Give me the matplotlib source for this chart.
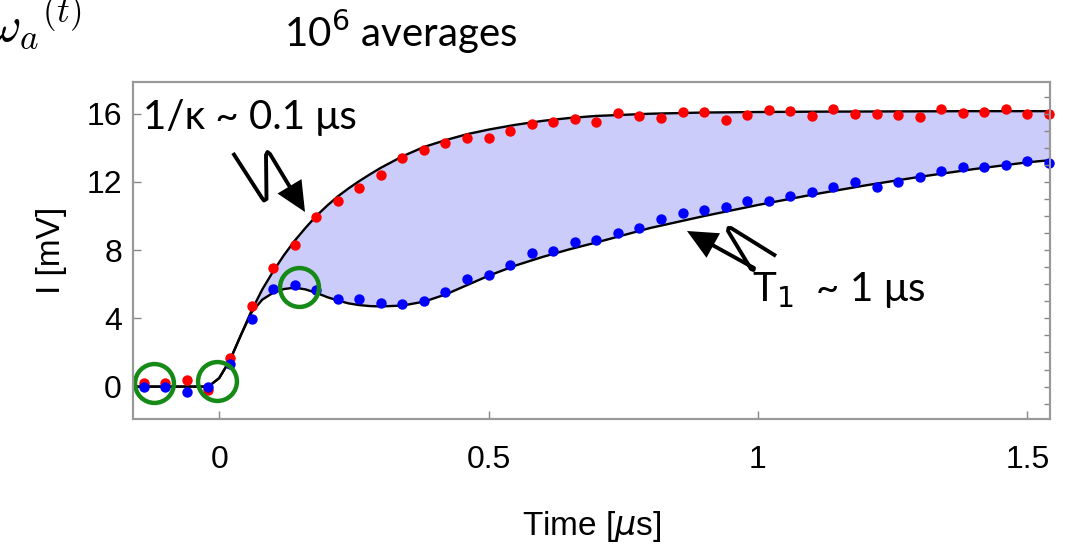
import matplotlib.pyplot as plt
from matplotlib.lines import Line2D
from matplotlib.patches import Polygon
import numpy as np

# measured points (time in us, signal in mV)
t_data = [-0.14, -0.10, -0.06, -0.02, 0.02, 0.06, 0.10, 0.14, 0.18, 0.22, 0.26,
          0.30, 0.34, 0.38, 0.42, 0.46, 0.50, 0.54, 0.58, 0.62, 0.66, 0.70,
          0.74, 0.78, 0.82, 0.86, 0.90, 0.94, 0.98, 1.02, 1.06, 1.10, 1.14,
          1.18, 1.22, 1.26, 1.30, 1.34, 1.38, 1.42, 1.46, 1.50, 1.54]
red_data = [0.2, 0.2, 0.4, -0.2, 1.65, 4.7, 6.95, 8.3, 9.95, 10.9, 11.65,
            12.4, 13.4, 13.9, 14.3, 14.55, 14.55, 14.98, 15.38, 15.53, 15.69, 15.5,
            16.06, 15.87, 15.77, 16.12, 16.08, 15.63, 15.92, 16.22, 16.18, 15.87, 16.3,
            16.0, 16.0, 15.9, 15.8, 16.26, 16.06, 16.12, 16.3, 16.0, 16.0]
blue_data = [0.0, 0.0, -0.3, 0.0, 1.35, 3.95, 5.7, 5.93, 5.66, 5.13, 5.13,
             4.88, 4.85, 5.03, 5.57, 6.32, 6.54, 7.13, 7.81, 7.96, 8.46, 8.59,
             8.98, 9.28, 9.82, 10.2, 10.35, 10.55, 10.87, 10.9, 11.2, 11.4, 11.7,
             12.0, 11.7, 12.0, 12.3, 12.65, 12.86, 12.86, 13.02, 13.24, 13.13]

# fitted curves
t_fit = [-0.16, -0.02, 0.0, 0.02, 0.04, 0.06, 0.08, 0.10, 0.12, 0.14, 0.16, 0.18,
         0.20, 0.22, 0.24, 0.26, 0.28, 0.30, 0.34, 0.38, 0.42, 0.46, 0.50, 0.55,
         0.60, 0.65, 0.70, 0.80, 0.90, 1.0, 1.1, 1.2, 1.3, 1.4, 1.5, 1.55]
red_fit = [0, 0, 0.5, 1.55, 3.0, 4.45, 5.7, 6.75, 7.7, 8.55, 9.3, 10.0,
           10.6, 11.15, 11.62, 12.05, 12.45, 12.83, 13.5, 14.05, 14.45, 14.8, 15.07, 15.35,
           15.58, 15.75, 15.87, 16.0, 16.07, 16.1, 16.12, 16.13, 16.14, 16.15, 16.15, 16.15]
blue_fit = [0, 0, 0.5, 1.55, 3.0, 4.35, 5.1, 5.5, 5.72, 5.8, 5.7, 5.5,
            5.25, 5.05, 4.88, 4.78, 4.72, 4.7, 4.75, 4.98, 5.4, 5.95, 6.5, 7.1,
            7.6, 8.05, 8.45, 9.3, 10.0, 10.65, 11.25, 11.8, 12.3, 12.75, 13.15, 13.3]

# highlighted points (green circles)
t_mark = [-0.121, -0.004, 0.149]
v_mark = [0.19, 0.34, 5.85]

W, H = 1068, 545
fig = plt.figure(figsize=(W / 100, H / 100), dpi=100)
ax = fig.add_axes([133 / W, 1 - 419 / H, (1050 - 133) / W, (419 - 82) / H])

ax.fill_between(t_fit, red_fit, blue_fit, color='#ccccfa', lw=0, zorder=1)
ax.plot(t_fit, red_fit, color='black', lw=1.7, zorder=2)
ax.plot(t_fit, blue_fit, color='black', lw=1.7, zorder=2)
ax.plot(t_data, red_data, 'o', color='#ff0000', ms=7.5, mec='none', zorder=3, clip_on=False)
ax.plot(t_data, blue_data, 'o', color='#0000ff', ms=7.5, mec='none', zorder=4, clip_on=False)
ax.plot(t_mark, v_mark, 'o', mfc='none', mec='#168a16', mew=3.2, ms=28, zorder=5, clip_on=False)

ax.set_xlim(-0.16, 1.542)
ax.set_ylim(-1.9, 17.86)

tick_font = ['Liberation Sans', 'DejaVu Sans']
ax.set_xticks([0, 0.5, 1, 1.5])
ax.set_xticklabels(['0', '0.5', '1', '1.5'])
ax.set_yticks([0, 4, 8, 12, 16])
for lab in ax.get_xticklabels() + ax.get_yticklabels():
    lab.set_family(tick_font)
    lab.set_fontsize(23)
ax.tick_params(direction='in', length=6, width=1, color='#888888')
ax.tick_params(axis='x', pad=19)
ax.tick_params(axis='y', pad=8)

# right side small ticks every 1 mV
axr = ax.twinx()
axr.set_ylim(ax.get_ylim())
axr.set_yticks(range(-1, 18))
axr.tick_params(direction='in', length=4, width=1, color='#888888', labelright=False)

for a in (ax, axr):
    for s in a.spines.values():
        s.set_color('#999999')
        s.set_linewidth(1.5)

ax.set_xlabel('Time [$\\mu$s]', fontsize=24, family=tick_font, labelpad=24)
ax.set_ylabel('I [mV]', fontsize=24, family=tick_font, labelpad=14)

# annotations
txt_font = ['Lato', 'DejaVu Sans']
fig.text(284 / W, 1 - 32 / H, '10$^6$ averages', fontsize=29, family=txt_font,
         va='center', ha='left')
fig.text(143 / W, 1 - 117 / H, '1/\u03ba ~ 0.1 \u03bcs', fontsize=29,
         family=txt_font, va='center', ha='left')
fig.text(752 / W, 1 - 290 / H, 'T$_1$  ~ 1 \u03bcs', fontsize=29,
         family=txt_font, va='center', ha='left')
fig.text(-12 / W, 1 - 41 / H, '$\\omega_a{}^{(t)}$', fontsize=36, math_fontfamily='cm',
         va='baseline', ha='left')


def zigzag(pts, head_len=30, head_w=14):
    pts = np.array(pts, dtype=float)
    tip = pts[-1]
    u = tip - pts[-2]
    u = u / np.hypot(*u)
    n = np.array([-u[1], u[0]])
    base = tip - head_len * u
    line = np.vstack([pts[:-1], base + 2 * u])
    fig.add_artist(Line2D(line[:, 0] / W, 1 - line[:, 1] / H, color='black', lw=2.8,
                          solid_joinstyle='round', solid_capstyle='butt'))
    head = np.array([tip, base + head_w * n, base - head_w * n])
    fig.add_artist(Polygon(np.column_stack([head[:, 0] / W, 1 - head[:, 1] / H]),
                           closed=True, color='black', lw=0))


zigzag([(233, 153), (262, 198), (264, 200.5), (266.5, 199), (266, 155),
        (267.5, 152), (270, 154), (305, 212)])
zigzag([(776, 256), (731, 228), (728.5, 228), (728, 231), (751, 269),
        (753.5, 270), (754, 268), (687, 231)])

fig.savefig('out.png', dpi=100)
